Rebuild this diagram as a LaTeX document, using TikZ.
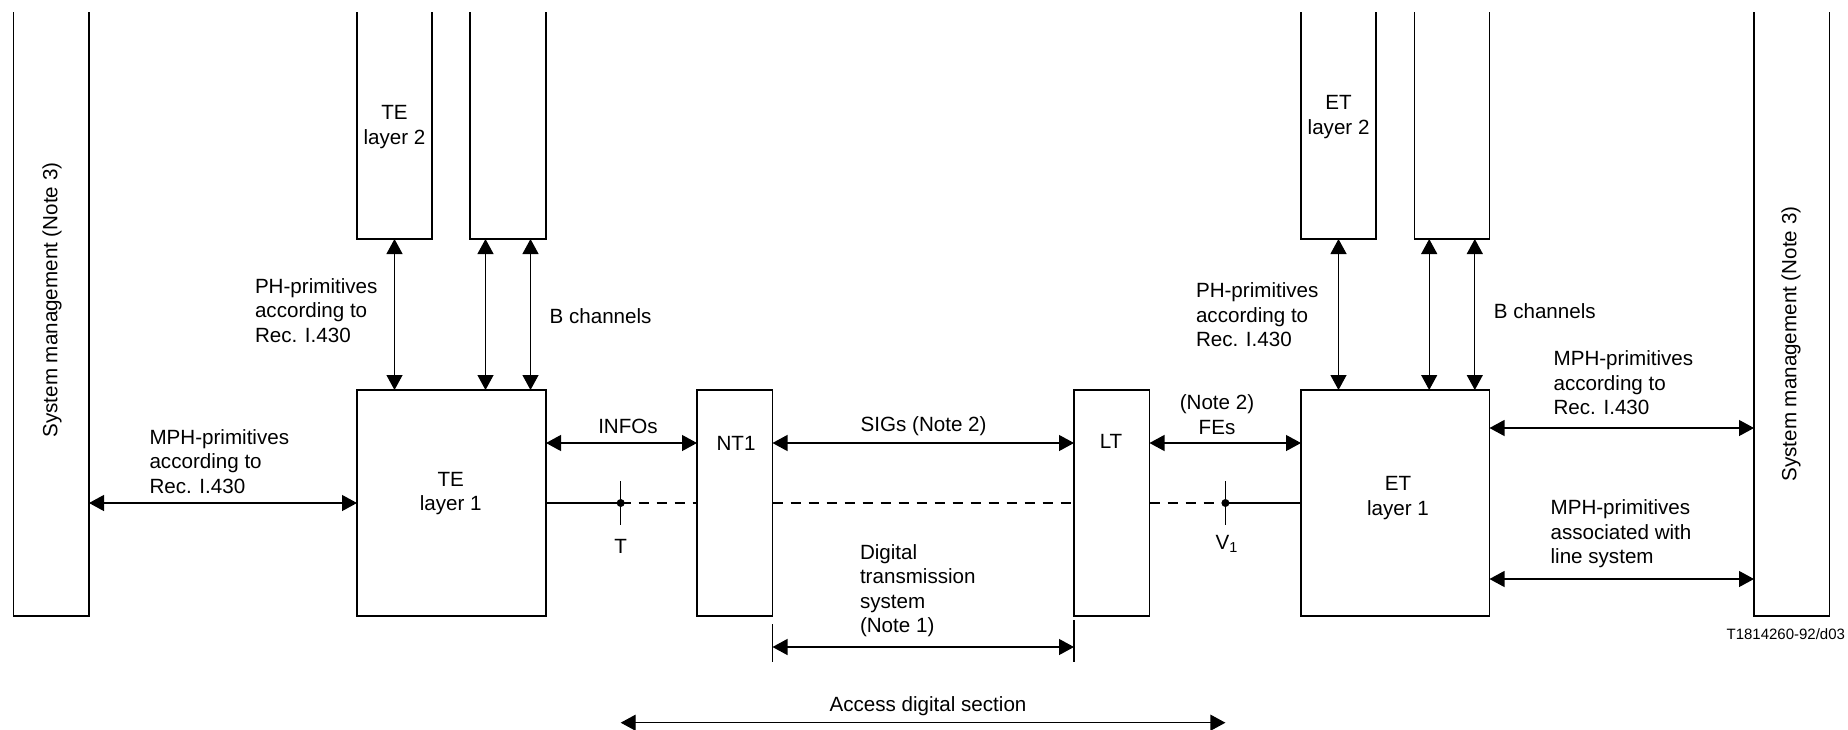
\documentclass[tikz,border=0pt]{standalone}
\usepackage{fontspec}
\setmainfont{Liberation Sans}
\usetikzlibrary{arrows.meta,calc}

\begin{document}
\begin{tikzpicture}[x=0.5pt,y=-0.5pt,line width=0.6pt,
    >={Triangle[length=7.5pt,width=8pt]},
    every node/.style={inner sep=0pt,outer sep=0pt,font=\fontsize{10.3}{12.25}\selectfont},
    openbox/.style={minimum width=37.5pt,minimum height=113.5pt},
    sidebox/.style={minimum width=37.75pt,minimum height=302pt},
    tallbox/.style={draw,minimum height=113pt},
    lbl/.style={align=left,anchor=west},
    dashline/.style={dash pattern=on 5pt off 4pt}]
  \useasboundingbox (0,0) rectangle (1848,729);

  % blocks
  \node[sidebox] (sml) at (51.25,314) {};
  \node[openbox] (tel2) at (394.5,125.5) {};
  \node[openbox,minimum width=38pt] (teb) at (508,125.5) {};
  \node[tallbox,minimum width=94.5pt] (tel1) at (451.5,503) {};
  \node[tallbox,minimum width=37.75pt] (nt1) at (734.75,503) {};
  \node[tallbox,minimum width=37.75pt] (lt) at (1111.75,503) {};
  \node[openbox] (etl2) at (1338.5,125.5) {};
  \node[openbox] (etb) at (1452,125.5) {};
  \node[tallbox,minimum width=94.25pt] (etl1) at (1395.25,503) {};
  \node[sidebox] (smr) at (1791.75,314) {};
  \foreach \n in {sml,tel2,teb,etl2,etb,smr}
    \draw (\n.north west) -- (\n.south west) -- (\n.south east) -- (\n.north east);

  % block texts
  \node[rotate=90] (smltxt) at (52,300) {System management (Note 3)};
  \node[rotate=90] (smrtxt) at (1791,344) {System management (Note 3)};
  \node[align=center] (tel2txt) at (394.5,127) {TE\\layer 2};
  \node[align=center] (etl2txt) at (1338.6,117) {ET\\layer 2};
  \node[align=center] (tel1txt) at (450.8,493.5) {TE\\layer 1};
  \node[align=center] (etl1txt) at (1398,498) {ET\\layer 1};
  \node (nt1txt) at (736,443) {NT1};
  \node (lttxt) at (1111,441) {LT};

  % vertical arrows
  \coordinate (tb1) at ($(teb.south)+(-22.5,0)$);
  \coordinate (tb2) at ($(teb.south)+(22.5,0)$);
  \coordinate (eb1) at ($(etb.south)+(-22.8,0)$);
  \coordinate (eb2) at ($(etb.south)+(22.8,0)$);
  \draw[<->] (tel2.south) -- (tel2.south |- tel1.north);
  \draw[<->] (tb1) -- (tb1 |- tel1.north);
  \draw[<->] (tb2) -- (tb2 |- tel1.north);
  \draw[<->] (etl2.south) -- (etl2.south |- etl1.north);
  \draw[<->] (eb1) -- (eb1 |- etl1.north);
  \draw[<->] (eb2) -- (eb2 |- etl1.north);

  % horizontal arrows
  \coordinate (tel1a) at ($(tel1.east)+(0,-60)$);
  \coordinate (nt1a) at ($(nt1.east)+(0,-60)$);
  \coordinate (lta) at ($(lt.east)+(0,-60)$);
  \coordinate (etl1a) at ($(etl1.east)+(0,-75)$);
  \coordinate (etl1b) at ($(etl1.east)+(0,76)$);
  \draw[<->] (tel1.west -| sml.east) -- (tel1.west);
  \draw[<->] (tel1a) -- (tel1a -| nt1.west);
  \draw[<->] (nt1a) -- (nt1a -| lt.west);
  \draw[<->] (lta) -- (lta -| etl1.west);
  \draw[<->] (etl1a) -- (etl1a -| smr.west);
  \draw[<->] (etl1b) -- (etl1b -| smr.west);

  % reference points T and V1
  \coordinate (tpt) at (620.7,503);
  \coordinate (vpt) at (1225.4,503);
  \draw (tel1.east) -- (tpt);
  \draw[dashline] (tpt) -- (nt1.west);
  \draw[dashline] (nt1.east) -- (lt.west);
  \draw[dashline] (lt.east) -- (vpt);
  \draw (vpt) -- (etl1.west);
  \foreach \p in {tpt,vpt} {
    \draw ($(\p)+(0,-22)$) -- ($(\p)+(0,22)$);
    \fill (\p) circle (2pt);
  }
  \node (ttxt) at (620.7,546.7) {T};
  \node (vtxt) at (1227,544) {V\textsubscript{1}};

  % dimension arrows
  \coordinate (dtl) at ($(nt1.south east)+(0,31)$);
  \coordinate (dtr) at (dtl -| lt.west);
  \draw ($(nt1.south east)+(0,8)$) -- ($(nt1.south east)+(0,46)$);
  \draw ($(lt.south west)+(0,4)$) -- ($(lt.south west)+(0,46)$);
  \draw[<->] (dtl) -- (dtr);
  \coordinate (acl) at ($(tpt)+(0,219.7)$);
  \coordinate (acr) at (acl -| vpt);
  \draw[<->] (acl) -- (acr);

  % labels
  \node[lbl] (phl) at (255,310.5) {PH-primitives\\according to\\Rec. I.430};
  \node[lbl] (bchl) at (549.6,316) {B channels};
  \node[lbl] (mphl) at (149.5,461.5) {MPH-primitives\\according to\\Rec. I.430};
  \node (infos) at (628,426) {INFOs};
  \node (sigs) at (923.6,426) {SIGs (Note 2)};
  \node[align=center] (fes) at (1217,414.7) {(Note 2)\\FEs};
  \node[lbl] (dts) at (860,590.5) {Digital\\transmission\\system\\(Note 1)};
  \node (ads) at (928,705.7) {Access digital section};
  \node[lbl] (phr) at (1196,314.7) {PH-primitives\\according to\\Rec. I.430};
  \node[lbl] (bchr) at (1493.8,311.5) {B channels};
  \node[lbl] (mphr) at (1553.6,383) {MPH-primitives\\according to\\Rec. I.430};
  \node[lbl] (mphls) at (1550.6,534) {MPH-primitives\\associated with\\line system};
  \node[anchor=east,font=\fontsize{7.5}{9}\selectfont] (figid) at (1845,634.6) {T1814260-92/d03};
\end{tikzpicture}
\end{document}
